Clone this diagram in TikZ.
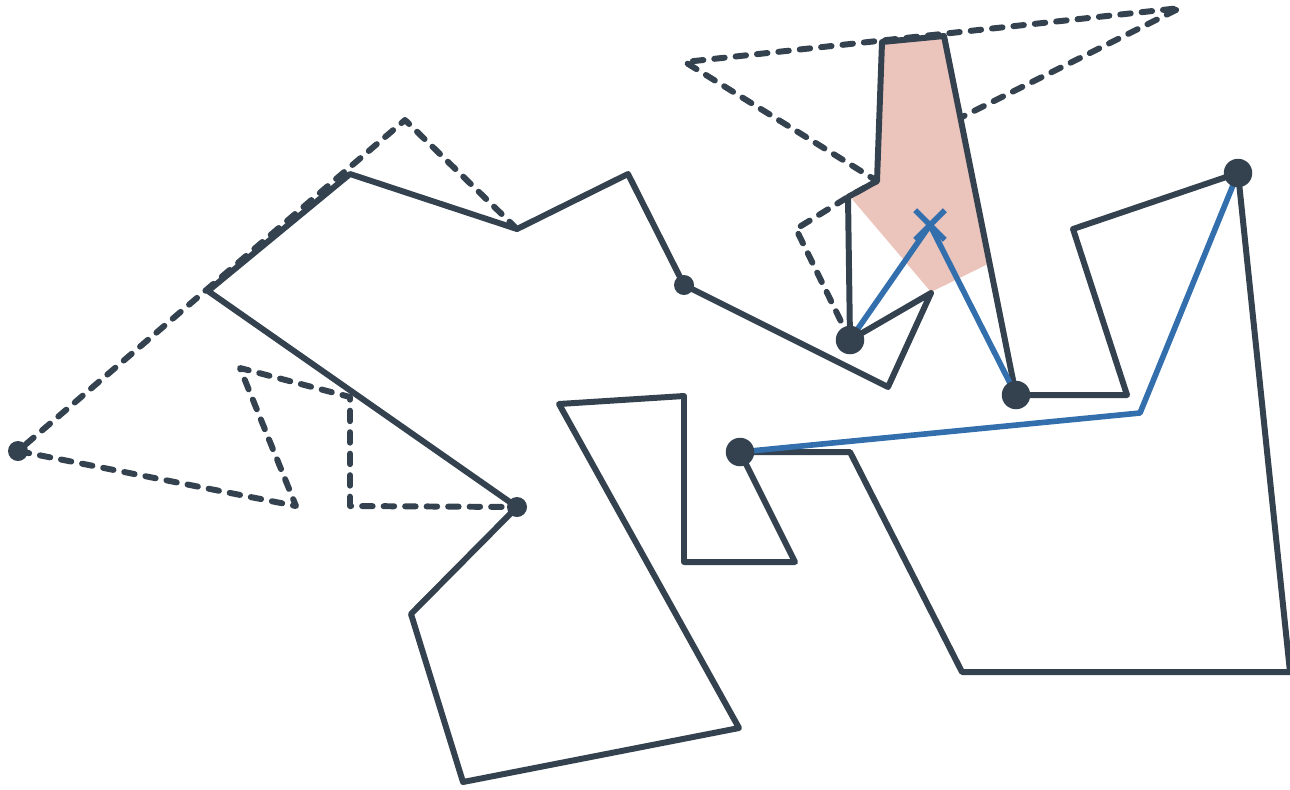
\documentclass[tikz,border=0pt]{standalone}
\usepackage{tikz}
\usetikzlibrary{shapes.misc}
\definecolor{polydark}{RGB}{52,65,78}
\definecolor{pathblue}{RGB}{51,111,173}
\definecolor{hitpink}{RGB}{235,197,188}

\begin{document}
\begin{tikzpicture}[
  x=0.02cm, y=-0.02cm,
  edge/.style={draw=polydark, line width=3.4pt, line join=round},
  oldedge/.style={draw=polydark, line width=3.4pt, dash pattern=on 0.21cm off 0.22cm, line cap=round, line join=round},
  route/.style={draw=pathblue, line width=3.2pt, line join=round},
  region/.style={fill=hitpink, draw=none},
  bigdot/.style={circle, fill=polydark, inner sep=0pt, minimum size=0.57cm},
  smalldot/.style={circle, fill=polydark, inner sep=0pt, minimum size=0.4cm},
  xmark/.style={cross out, draw=pathblue, line width=3.2pt, inner sep=0pt, minimum size=0.48cm}
]
\useasboundingbox (0,0) rectangle (1290,789);

% Polygon vertices
\coordinate (s1) at (208,291);
\coordinate (s2) at (350,174);
\coordinate (s3) at (517,229);
\coordinate (s4) at (628,174);
\coordinate (s5) at (684,285);
\coordinate (s6) at (888,387);
\coordinate (s7) at (931,293);
\coordinate (s8) at (850,340);
\coordinate (s9) at (848,197);
\coordinate (s10) at (877,181);
\coordinate (s11) at (882,42);
\coordinate (s12) at (944,36);
\coordinate (s13) at (1016,395);
\coordinate (s14) at (1127,395);
\coordinate (s15) at (1073,229);
\coordinate (s16) at (1238,173);
\coordinate (s17) at (1290,672);
\coordinate (s18) at (962,672);
\coordinate (s19) at (850,452);
\coordinate (s20) at (740,452);
\coordinate (s21) at (795,562);
\coordinate (s22) at (684,562);
\coordinate (s23) at (684,396);
\coordinate (s24) at (559,404);
\coordinate (s25) at (739,728);
\coordinate (s26) at (463,782);
\coordinate (s27) at (411,614);
\coordinate (s28) at (517,507);

% Old outline
\coordinate (o1) at (405,120);
\coordinate (o2) at (18,451);
\coordinate (o3) at (296,506);
\coordinate (o4) at (240,368);
\coordinate (o5) at (350,397);
\coordinate (o6) at (350,506);
\coordinate (o7) at (796,229);
\coordinate (o8) at (685,62);
\coordinate (o9) at (1180,8);
\coordinate (o10) at (962,117);

% Route bends
\coordinate (r1) at (1140,413);
\coordinate (h1) at (990,263);
\coordinate (h2) at (931,292);
\coordinate (h3) at (852,199);

% Shaded region
\fill[region] (h3) -- (s10) -- (s11) -- (s12) -- (h1) -- (h2) -- cycle;

% Dashed outlines
\draw[oldedge] (s3) -- (o1) -- (o2) -- (o3) -- (o4) -- (o5) -- (o6) -- (s28);
\draw[oldedge] (s8) -- (o7) -- (s9) -- (s10) -- (o8) -- (o9) -- (o10);

% Solid outline
\draw[edge] (s1) -- (s2) -- (s3) -- (s4) -- (s5) -- (s6) -- (s7) -- (s8) -- (s9) -- (s10) -- (s11) -- (s12) -- (s13) -- (s14) -- (s15) -- (s16) -- (s17) -- (s18) -- (s19) -- (s20) -- (s21) -- (s22) -- (s23) -- (s24) -- (s25) -- (s26) -- (s27) -- (s28) -- cycle;

% Routes
\node[xmark] (x) at (930,225) {};
\draw[route] (s8) -- (x.center) -- (s13);
\draw[route] (s20) -- (r1) -- (s16);

% Dots
\node[bigdot] (d8) at (s8) {};
\node[bigdot] (d13) at (s13) {};
\node[bigdot] (d16) at (s16) {};
\node[bigdot] (d20) at (s20) {};
\node[smalldot] (d5) at (s5) {};
\node[smalldot] (d28) at (s28) {};
\node[smalldot] (do2) at (o2) {};

\end{tikzpicture}
\end{document}
